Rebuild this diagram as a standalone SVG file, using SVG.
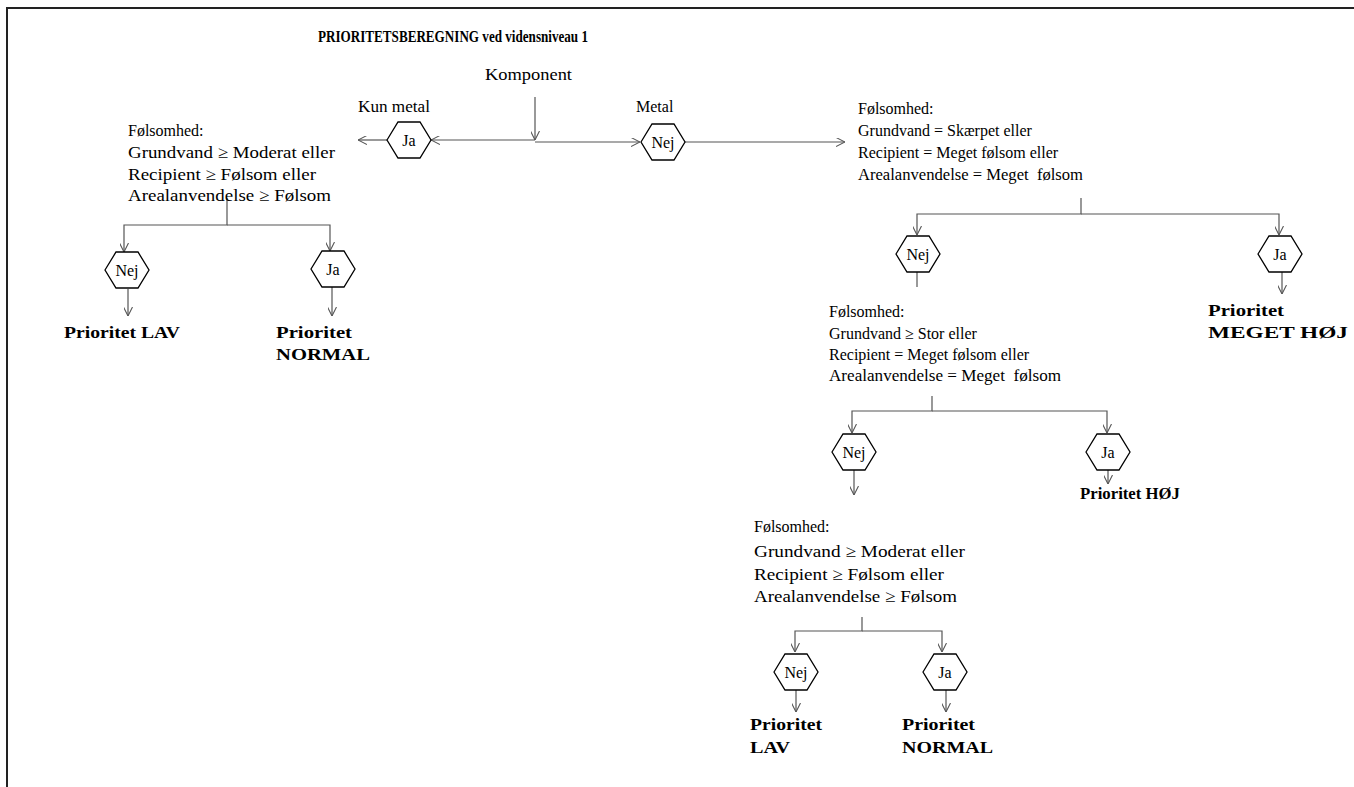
<svg xmlns="http://www.w3.org/2000/svg" width="1354" height="787" viewBox="0 0 1354 787">
<style>
.t{font-family:"Liberation Serif","Times New Roman",serif;font-size:16px;fill:#000}
.s{font-family:"Liberation Serif","Times New Roman",serif;font-size:17px;fill:#000}
.b{font-family:"Liberation Serif","Times New Roman",serif;font-size:17px;font-weight:bold;fill:#000}
.ti{font-family:"Liberation Serif","Times New Roman",serif;font-size:16px;font-weight:bold;fill:#000}
.h{fill:#fff;stroke:#000;stroke-width:1.3}
.c{fill:none;stroke:#555;stroke-width:1.2}
.ht{font-family:"Liberation Serif","Times New Roman",serif;font-size:16px;fill:#000;text-anchor:middle}
</style>
<defs>
<marker id="a" viewBox="0 0 10 10" refX="10" refY="5" markerWidth="9" markerHeight="9" markerUnits="userSpaceOnUse" orient="auto">
<path d="M0,0 L10,5 L0,10" fill="none" stroke="#555" stroke-width="1.2"/>
</marker>
<polygon id="hex" points="-22,0 -11,-18 11,-18 22,0 11,18 -11,18"/>
</defs>
<rect x="7" y="8" width="1400" height="800" fill="#fff" stroke="#222" stroke-width="2"/>

<g id="title"><text class="ti" x="318" y="42" textLength="270" lengthAdjust="spacingAndGlyphs">PRIORITETSBEREGNING ved vidensniveau 1</text></g>
<g id="komponent"><text class="s" x="485" y="80" textLength="87" lengthAdjust="spacingAndGlyphs">Komponent</text></g>
<g id="lbl-kun"><text class="t" x="358" y="112" textLength="72" lengthAdjust="spacingAndGlyphs">Kun metal</text></g>
<g id="lbl-metal"><text class="t" x="636" y="112">Metal</text></g>

<g id="connectors">
<path class="c" d="M535,97 V140" marker-end="url(#a)"/>
<path class="c" d="M535,140 H431" marker-end="url(#a)"/>
<path class="c" d="M535,142 H640" marker-end="url(#a)"/>
<path class="c" d="M387,140 H358" marker-end="url(#a)"/>
<path class="c" d="M685,142 H845" marker-end="url(#a)"/>
<path class="c" d="M227,198 V225 H124 V252" marker-end="url(#a)"/>
<path class="c" d="M227,225 H330 V251" marker-end="url(#a)"/>
<path class="c" d="M128,289 V316" marker-end="url(#a)"/>
<path class="c" d="M332,287 V316" marker-end="url(#a)"/>
<path class="c" d="M1081,198 V214 H917 V235" marker-end="url(#a)"/>
<path class="c" d="M1081,214 H1279 V235" marker-end="url(#a)"/>
<path class="c" d="M917,272 V287"/>
<path class="c" d="M1282,272 V294" marker-end="url(#a)"/>
<path class="c" d="M932,396 V411 H852 V433" marker-end="url(#a)"/>
<path class="c" d="M932,411 H1107 V433" marker-end="url(#a)"/>
<path class="c" d="M854,470 V495" marker-end="url(#a)"/>
<path class="c" d="M1108,470 V484" marker-end="url(#a)"/>
<path class="c" d="M862,617 V631 H795 V652" marker-end="url(#a)"/>
<path class="c" d="M862,631 H942 V652" marker-end="url(#a)"/>
<path class="c" d="M796,690 V712" marker-end="url(#a)"/>
<path class="c" d="M946,690 V712" marker-end="url(#a)"/>
</g>

<g id="hex-ja-top"><use href="#hex" class="h" x="409" y="140"/><text class="ht" x="409" y="146">Ja</text></g>
<g id="hex-nej-top"><use href="#hex" class="h" x="663" y="142"/><text class="ht" x="663" y="148">Nej</text></g>

<g id="cond-left">
<text class="t" x="128" y="136">Følsomhed:</text>
<text class="s" x="128" y="158" textLength="207" lengthAdjust="spacingAndGlyphs">Grundvand ≥ Moderat eller</text>
<text class="s" x="128" y="180" textLength="188" lengthAdjust="spacingAndGlyphs">Recipient ≥ Følsom eller</text>
<text class="s" x="128" y="201" textLength="203" lengthAdjust="spacingAndGlyphs">Arealanvendelse ≥ Følsom</text>
</g>
<g id="hex-nej-l"><use href="#hex" class="h" x="127" y="270"/><text class="ht" x="127" y="276">Nej</text></g>
<g id="hex-ja-l"><use href="#hex" class="h" x="333" y="269"/><text class="ht" x="333" y="275">Ja</text></g>
<g id="res-lav-l"><text class="b" x="64" y="338" textLength="116" lengthAdjust="spacingAndGlyphs">Prioritet LAV</text></g>
<g id="res-normal-l"><text class="b" x="276" y="338" textLength="76" lengthAdjust="spacingAndGlyphs">Prioritet</text><text class="b" x="276" y="360" textLength="94" lengthAdjust="spacingAndGlyphs">NORMAL</text></g>

<g id="cond-1">
<text class="t" x="858" y="114">Følsomhed:</text>
<text class="t" x="858" y="136">Grundvand = Skærpet eller</text>
<text class="t" x="858" y="158">Recipient = Meget følsom eller</text>
<text class="t" x="858" y="180" textLength="225" lengthAdjust="spacingAndGlyphs">Arealanvendelse = Meget &#160;følsom</text>
</g>
<g id="hex-nej-1"><use href="#hex" class="h" x="918" y="254"/><text class="ht" x="918" y="260">Nej</text></g>
<g id="hex-ja-1"><use href="#hex" class="h" x="1280" y="254"/><text class="ht" x="1280" y="260">Ja</text></g>
<g id="res-megethoj"><text class="b" x="1208" y="316" textLength="76" lengthAdjust="spacingAndGlyphs">Prioritet</text><text class="b" x="1208" y="338" textLength="140" lengthAdjust="spacingAndGlyphs">MEGET HØJ</text></g>

<g id="cond-2">
<text class="t" x="829" y="317">Følsomhed:</text>
<text class="t" x="829" y="339">Grundvand ≥ Stor eller</text>
<text class="t" x="829" y="360">Recipient = Meget følsom eller</text>
<text class="t" x="829" y="381" textLength="232" lengthAdjust="spacingAndGlyphs">Arealanvendelse = Meget &#160;følsom</text>
</g>
<g id="hex-nej-2"><use href="#hex" class="h" x="854" y="452"/><text class="ht" x="854" y="458">Nej</text></g>
<g id="hex-ja-2"><use href="#hex" class="h" x="1108" y="452"/><text class="ht" x="1108" y="458">Ja</text></g>
<g id="res-hoj"><text class="b" x="1080" y="499" textLength="100" lengthAdjust="spacingAndGlyphs">Prioritet HØJ</text></g>

<g id="cond-3">
<text class="t" x="754" y="532">Følsomhed:</text>
<text class="s" x="754" y="557" textLength="211" lengthAdjust="spacingAndGlyphs">Grundvand ≥ Moderat eller</text>
<text class="s" x="754" y="580" textLength="190" lengthAdjust="spacingAndGlyphs">Recipient ≥ Følsom eller</text>
<text class="s" x="754" y="602" textLength="203" lengthAdjust="spacingAndGlyphs">Arealanvendelse ≥ Følsom</text>
</g>
<g id="hex-nej-3"><use href="#hex" class="h" x="796" y="672"/><text class="ht" x="796" y="678">Nej</text></g>
<g id="hex-ja-3"><use href="#hex" class="h" x="945" y="672"/><text class="ht" x="945" y="678">Ja</text></g>
<g id="res-lav-3"><text class="b" x="750" y="730" textLength="72" lengthAdjust="spacingAndGlyphs">Prioritet</text><text class="b" x="750" y="753" textLength="40" lengthAdjust="spacingAndGlyphs">LAV</text></g>
<g id="res-normal-3"><text class="b" x="902" y="730" textLength="73" lengthAdjust="spacingAndGlyphs">Prioritet</text><text class="b" x="902" y="753" textLength="91" lengthAdjust="spacingAndGlyphs">NORMAL</text></g>
</svg>
